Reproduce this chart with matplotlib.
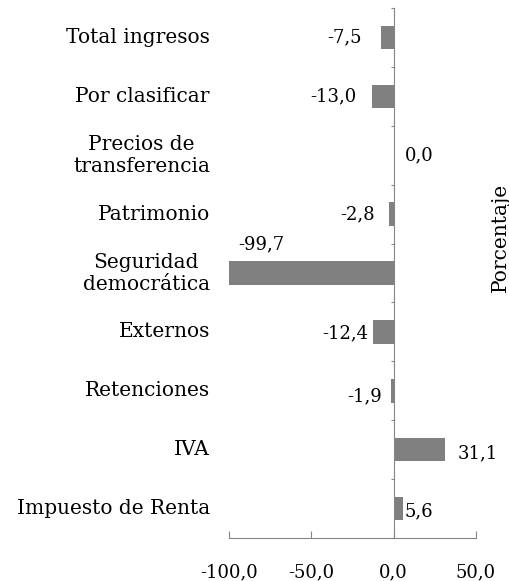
import numpy as np
import matplotlib.pyplot as plt

categorias = ['Impuesto de Renta', 'IVA', 'Retenciones', 'Externos',
              'Seguridad\ndemocrática', 'Patrimonio', 'Precios de\ntransferencia',
              'Por clasificar', 'Total ingresos']
variacion = [5.6, 31.1, -1.9, -12.4, -99.7, -2.8, 0.0, -13.0, -7.5]
xticks = [-100, -50, 0, 50]

# desplazamiento de cada etiqueta de valor (pixeles)
desp = [(2, -3), (13, -4), (-9, -6), (-5, -1), (9, 29), (-14, 0), (11, 0), (-16, 0), (-20, 0)]

plt.rcParams['font.family'] = ['DejaVu Serif']
fs_txt = 14.5
fs_num = 13
gris = '#808080'
eje = '#868686'

fig = plt.figure(figsize=(5.10, 5.81), dpi=100)
ax = fig.add_axes([229 / 510, 1 - 538 / 581, 247 / 510, 530 / 581])

y = np.arange(len(categorias))
ax.barh(y, variacion, height=0.4, color=gris)

def fmt(v):
    return f'{v:.1f}'.replace('.', ',')

for yi, v, (dx, dy) in zip(y, variacion, desp):
    ha = 'right' if dx < 0 else 'left'
    ax.annotate(fmt(v), (v, yi), xytext=(dx, dy), textcoords='offset pixels',
                ha=ha, va='center', fontsize=fs_num)

# nombres de las categorias a la izquierda del area de graficos
for yi, nombre in zip(y, categorias):
    ax.text(-19 / 247, yi, nombre, transform=ax.get_yaxis_transform(),
            ha='right', va='center', multialignment='center', fontsize=fs_txt)

ax.set_xlim(-100, 50)
ax.set_ylim(-0.5, len(categorias) - 0.5)
ax.set_xticks(xticks, [fmt(t) for t in xticks], fontsize=fs_num)
ax.set_yticks(np.arange(-0.5, len(categorias)))
ax.set_yticklabels([])
ax.tick_params(axis='y', length=2.5, color=eje, direction='out')
ax.tick_params(axis='x', direction='in', length=5, color=eje, pad=18)

for s in ['top', 'right']:
    ax.spines[s].set_visible(False)
ax.spines['left'].set_position(('data', 0))
ax.spines['left'].set_color(eje)
ax.spines['bottom'].set_color(eje)

fig.text(500 / 510, 1 - 237 / 581, 'Porcentaje', rotation=90, ha='center', va='center', fontsize=fs_txt)

fig.savefig('out.png', dpi=100)
